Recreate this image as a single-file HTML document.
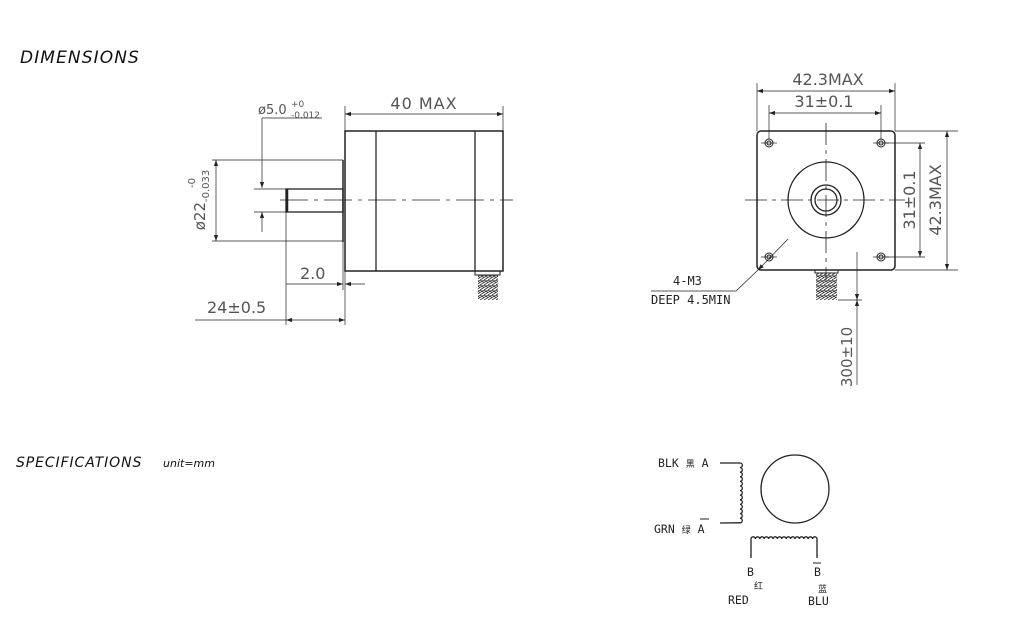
<!DOCTYPE html>
<html><head><meta charset="utf-8"><style>
html,body{margin:0;padding:0;background:#fff;width:1024px;height:625px;overflow:hidden}
svg{display:block}
.t{font-family:"DejaVu Sans","Liberation Sans","Noto Sans CJK SC",sans-serif;fill:#555}
.k{font-family:"DejaVu Sans Mono","Liberation Mono","Noto Sans CJK SC",monospace;fill:#222}
</style></head><body>
<svg width="1024" height="625" viewBox="0 0 1024 625" xmlns="http://www.w3.org/2000/svg">
<defs>
<marker id="a" viewBox="0 0 10 10" refX="10" refY="5" markerWidth="9" markerHeight="6" orient="auto-start-reverse" markerUnits="userSpaceOnUse"><path d="M0,1.5 L10,5 L0,8.5z" fill="#222"/></marker>
<pattern id="w" width="4" height="5" patternUnits="userSpaceOnUse"><path d="M0,0 L4,2.5 L0,5 M4,0 L0,2.5" stroke="#333" stroke-width="0.8" fill="none"/></pattern>
</defs>
<text x="20" y="63" font-family="'DejaVu Sans','Liberation Sans',sans-serif" font-style="italic" font-size="17" letter-spacing="1.1" fill="#111">DIMENSIONS</text>
<text x="16" y="467" font-family="'DejaVu Sans','Liberation Sans',sans-serif" font-style="italic" font-size="14" letter-spacing="0.9" fill="#111">SPECIFICATIONS</text>
<text x="163" y="467" font-family="'DejaVu Sans','Liberation Sans',sans-serif" font-style="italic" font-size="11" fill="#111">unit=mm</text>

<g stroke="#222" fill="none" stroke-width="1">
<rect x="345" y="131" width="158" height="140" stroke-width="1.5"/>
<line x1="376" y1="131" x2="376" y2="271" stroke-width="1.3"/>
<line x1="475" y1="131" x2="475" y2="271" stroke-width="1.3"/>
<line x1="343" y1="160" x2="343" y2="242" stroke-width="1.5"/>
<rect x="286" y="189" width="57" height="23" stroke-width="1.3"/>
<line x1="287" y1="189" x2="287" y2="212" stroke-width="2.5"/>
<line x1="280" y1="200" x2="513" y2="200" stroke-dasharray="28,6,4,6" stroke-width="0.8"/>
<rect x="475" y="271" width="25" height="4"/>
<rect x="478" y="275" width="20" height="25" fill="url(#w)" stroke="none"/>
<line x1="345" y1="106" x2="345" y2="131" stroke-width="0.7"/>
<line x1="503" y1="106" x2="503" y2="131" stroke-width="0.7"/>
<line x1="345" y1="114" x2="503" y2="114" stroke-width="0.7" marker-start="url(#a)" marker-end="url(#a)"/>
<line x1="262" y1="118" x2="322" y2="118" stroke-width="0.7"/>
<line x1="262" y1="118" x2="262" y2="188" stroke-width="0.7" marker-end="url(#a)"/>
<line x1="262" y1="232" x2="262" y2="212" stroke-width="0.7" marker-end="url(#a)"/>
<line x1="254" y1="189" x2="288" y2="189" stroke-width="0.7"/>
<line x1="254" y1="212" x2="288" y2="212" stroke-width="0.7"/>
<line x1="212" y1="160" x2="343" y2="160" stroke-width="0.7"/>
<line x1="212" y1="241" x2="343" y2="241" stroke-width="0.7"/>
<line x1="216" y1="160" x2="216" y2="241" stroke-width="0.7" marker-start="url(#a)" marker-end="url(#a)"/>
<line x1="286" y1="212" x2="286" y2="325" stroke-width="0.7"/>
<line x1="345" y1="271" x2="345" y2="325" stroke-width="0.7"/>
<line x1="343" y1="242" x2="343" y2="290" stroke-width="0.7"/>
<line x1="286" y1="284" x2="343" y2="284" stroke-width="0.7" marker-end="url(#a)"/>
<line x1="365" y1="284" x2="345" y2="284" stroke-width="0.7" marker-end="url(#a)"/>
<line x1="195" y1="320" x2="286" y2="320" stroke-width="0.7"/>
<line x1="286" y1="320" x2="345" y2="320" stroke-width="0.7" marker-start="url(#a)" marker-end="url(#a)"/>

<rect x="757" y="131" width="138" height="139" rx="4" stroke-width="1.5"/>
<g stroke-width="1">
<circle cx="769" cy="143" r="4"/><circle cx="769" cy="143" r="2"/>
<circle cx="881" cy="143" r="4"/><circle cx="881" cy="143" r="2"/>
<circle cx="769" cy="257" r="4"/><circle cx="769" cy="257" r="2"/>
<circle cx="881" cy="257" r="4"/><circle cx="881" cy="257" r="2"/>
</g>
<g stroke-width="0.7">
<line x1="761" y1="143" x2="777" y2="143"/><line x1="873" y1="143" x2="889" y2="143"/>
<line x1="761" y1="257" x2="777" y2="257"/><line x1="873" y1="257" x2="889" y2="257"/>
</g>
<circle cx="826" cy="200" r="38" stroke-width="1.3"/>
<circle cx="826" cy="200" r="15" stroke-width="1.3"/>
<circle cx="826" cy="200" r="11" stroke-width="1.3"/>
<line x1="745" y1="200" x2="905" y2="200" stroke-dasharray="22,5,4,5" stroke-width="0.8"/>
<line x1="826" y1="123" x2="826" y2="280" stroke-dasharray="22,5,4,5" stroke-width="0.8"/>
<rect x="815" y="270" width="23" height="3"/>
<rect x="816" y="273" width="21" height="27" fill="url(#w)" stroke="none"/>
<line x1="757" y1="83" x2="757" y2="131" stroke-width="0.7"/>
<line x1="895" y1="83" x2="895" y2="131" stroke-width="0.7"/>
<line x1="757" y1="91" x2="895" y2="91" stroke-width="0.7" marker-start="url(#a)" marker-end="url(#a)"/>
<line x1="769" y1="105" x2="769" y2="139" stroke-width="0.7"/>
<line x1="881" y1="105" x2="881" y2="139" stroke-width="0.7"/>
<line x1="769" y1="113" x2="881" y2="113" stroke-width="0.7" marker-start="url(#a)" marker-end="url(#a)"/>
<line x1="895" y1="131" x2="958" y2="131" stroke-width="0.7"/>
<line x1="895" y1="270" x2="958" y2="270" stroke-width="0.7"/>
<line x1="947" y1="131" x2="947" y2="270" stroke-width="0.7" marker-start="url(#a)" marker-end="url(#a)"/>
<line x1="885" y1="143" x2="925" y2="143" stroke-width="0.7"/>
<line x1="885" y1="257" x2="925" y2="257" stroke-width="0.7"/>
<line x1="920" y1="143" x2="920" y2="257" stroke-width="0.7" marker-start="url(#a)" marker-end="url(#a)"/>
<line x1="857" y1="252" x2="857" y2="300" stroke-width="0.7" marker-end="url(#a)"/>
<line x1="857" y1="385" x2="857" y2="300" stroke-width="0.7" marker-end="url(#a)"/>
<line x1="838" y1="300" x2="862" y2="300" stroke-width="0.7"/>
<line x1="788" y1="239" x2="758" y2="270" stroke-width="0.7" marker-end="url(#a)"/>
<polyline points="758,270 736,291 651,291" stroke-width="0.7"/>

<circle cx="795" cy="489" r="34" stroke-width="1.3"/>
<path d="M720,463 L740,463 a2.3,2.3 0 0 1 0,4.6 a2.3,2.3 0 0 1 0,4.6 a2.3,2.3 0 0 1 0,4.6 a2.3,2.3 0 0 1 0,4.6 a2.3,2.3 0 0 1 0,4.6 a2.3,2.3 0 0 1 0,4.6 a2.3,2.3 0 0 1 0,4.6 a2.3,2.3 0 0 1 0,4.6 a2.3,2.3 0 0 1 0,4.6 a2.3,2.3 0 0 1 0,4.6 a2.3,2.3 0 0 1 0,4.6 a2.3,2.3 0 0 1 0,4.6 a2.3,2.3 0 0 1 0,4.6 L720,523" stroke-width="1.3"/>
<path d="M751,558 L751,539 a2.2,2.2 0 0 1 4.4,0 a2.2,2.2 0 0 1 4.4,0 a2.2,2.2 0 0 1 4.4,0 a2.2,2.2 0 0 1 4.4,0 a2.2,2.2 0 0 1 4.4,0 a2.2,2.2 0 0 1 4.4,0 a2.2,2.2 0 0 1 4.4,0 a2.2,2.2 0 0 1 4.4,0 a2.2,2.2 0 0 1 4.4,0 a2.2,2.2 0 0 1 4.4,0 a2.2,2.2 0 0 1 4.4,0 a2.2,2.2 0 0 1 4.4,0 a2.2,2.2 0 0 1 4.4,0 a2.2,2.2 0 0 1 4.4,0 a2.2,2.2 0 0 1 4.4,0 L817,558" stroke-width="1.3"/>
<line x1="700" y1="519" x2="709" y2="519" stroke-width="1"/>
<line x1="813" y1="563" x2="821" y2="563" stroke-width="1"/>
</g>

<g class="t" font-size="15">
<text x="424" y="109" text-anchor="middle" font-size="16" letter-spacing="1">40 MAX</text>
<text x="258" y="114" font-size="13">ø5.0</text>
<text x="291" y="107" font-size="9">+0</text>
<text x="291" y="118" font-size="9">-0.012</text>
<text x="300" y="279" font-size="16">2.0</text>
<text x="207" y="313" font-size="16">24±0.5</text>
<text transform="translate(205,200) rotate(-90)" text-anchor="middle" font-size="15">ø22<tspan font-size="10" dy="4">-0.033</tspan></text>
<text transform="translate(195,188) rotate(-90)" font-size="10">-0</text>
<text x="828" y="85" text-anchor="middle" font-size="16">42.3MAX</text>
<text x="824" y="107" text-anchor="middle" font-size="16">31±0.1</text>
<text transform="translate(941,200) rotate(-90)" text-anchor="middle" font-size="16">42.3MAX</text>
<text transform="translate(915,200) rotate(-90)" text-anchor="middle" font-size="16">31±0.1</text>
<text transform="translate(852,357) rotate(-90)" text-anchor="middle" font-size="15">300±10</text>
</g>
<g class="k" font-size="12">
<text x="673" y="285">4-M3</text>
<text x="651" y="304">DEEP 4.5MIN</text>
</g>
<g class="k" font-size="11.5">
<text x="658" y="467">BLK <tspan font-size="9">黑</tspan> A</text>
<text x="654" y="533">GRN <tspan font-size="9">绿</tspan> A</text>
<text x="747" y="576">B</text>
<text x="754" y="589" font-size="9">红</text>
<text x="728" y="604">RED</text>
<text x="814" y="576">B</text>
<text x="818" y="592" font-size="9">蓝</text>
<text x="808" y="605">BLU</text>
</g>
</svg>
</body></html>
